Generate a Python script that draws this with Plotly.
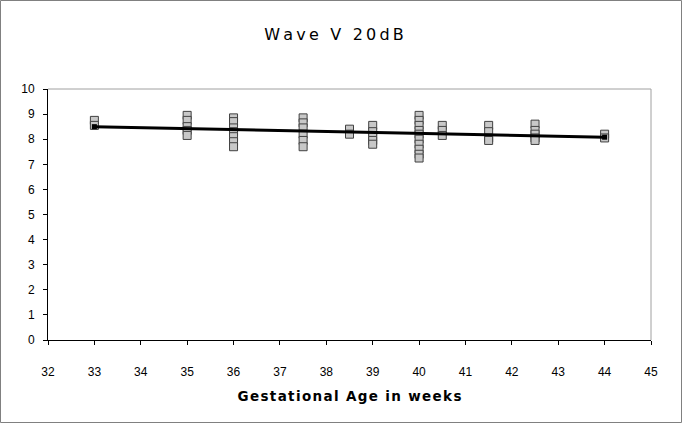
import plotly.graph_objects as go

# Data
ages = [33, 33,
        35, 35, 35, 35, 35,
        36, 36, 36, 36, 36, 36, 36,
        37.5, 37.5, 37.5, 37.5, 37.5, 37.5,
        38.5, 38.5,
        39, 39, 39, 39, 39,
        40, 40, 40, 40, 40, 40, 40, 40, 40, 40,
        40.5, 40.5, 40.5,
        41.5, 41.5, 41.5, 41.5,
        42.5, 42.5, 42.5, 42.5, 42.5,
        44, 44]
latency = [8.75, 8.55,
           8.95, 8.75, 8.5, 8.35, 8.15,
           8.85, 8.7, 8.45, 8.3, 8.1, 7.9, 7.7,
           8.85, 8.65, 8.45, 8.2, 7.95, 7.7,
           8.4, 8.2,
           8.55, 8.3, 8.1, 7.95, 7.8,
           8.95, 8.75, 8.55, 8.35, 8.2, 8.0, 7.8, 7.6, 7.4, 7.25,
           8.55, 8.35, 8.15,
           8.55, 8.3, 8.05, 7.95,
           8.6, 8.35, 8.2, 8.05, 7.95,
           8.2, 8.05]
trend_x = [33, 44]
trend_y = [8.5, 8.08]

x_ticks = list(range(32, 46))
y_ticks = list(range(0, 11))

title_text = "Wave V 20dB"
xtitle_text = "Gestational Age in weeks"


def spaced(s, sep):
    return sep.join(list(s))


fig = go.Figure()
fig.add_trace(go.Scatter(
    x=ages, y=latency, mode="markers",
    marker=dict(symbol="square", size=8, color="#c8c8c8",
                line=dict(color="#404040", width=1)),
    showlegend=False,
))
fig.add_trace(go.Scatter(
    x=trend_x, y=trend_y, mode="lines+markers",
    line=dict(color="#000000", width=3),
    marker=dict(symbol="square", size=5, color="#000000"),
    showlegend=False,
))

W, H = 682, 423
L, R, T, B = 48, 31, 89, 83
pw, ph = W - L - R, H - T - B

fig.update_layout(
    width=W, height=H,
    margin=dict(l=L, r=R, t=T, b=B, autoexpand=False),
    paper_bgcolor="white", plot_bgcolor="white",
    title=dict(text=spaced(title_text, "\u2009"),
               x=334 / W, xanchor="center", y=1 - 34 / H, yanchor="middle",
               font=dict(family="DejaVu Sans", size=16, color="#000000")),
    font=dict(family="Liberation Sans", size=12, color="#000000"),
    xaxis=dict(range=[32, 45], tickvals=x_ticks, ticks="outside", ticklen=4,
               tickcolor="#000000", showline=True, linecolor="#000000", linewidth=1,
               showgrid=False, zeroline=False, automargin=False,
               ticklabelstandoff=17,
               title=dict(text=spaced(xtitle_text, "\u200a"), standoff=13,
                          font=dict(family="DejaVu Sans", size=13.5, weight="bold",
                                    color="#000000")),
               tickfont=dict(family="Liberation Sans", size=12)),
    yaxis=dict(range=[0, 10], tickvals=y_ticks, ticks="outside", ticklen=4,
               tickcolor="#000000", showline=True, linecolor="#000000", linewidth=1,
               showgrid=False, zeroline=False, automargin=False,
               ticklabelstandoff=6,
               tickfont=dict(family="Liberation Sans", size=12)),
    shapes=[
        dict(type="line", xref="paper", yref="paper", x0=0, x1=1, y0=1, y1=1,
             line=dict(color="#a0a0a0", width=1)),
        dict(type="line", xref="paper", yref="paper", x0=1, x1=1, y0=0, y1=1,
             line=dict(color="#a0a0a0", width=1)),
        dict(type="rect", xref="paper", yref="paper",
             x0=-(L - 0.5) / pw, x1=1 + (R - 0.5) / pw,
             y0=-(B - 0.5) / ph, y1=1 + (T - 0.5) / ph,
             line=dict(color="#808080", width=1)),
    ],
)

fig.write_html(
    "out.html",
    config={"displayModeBar": False},
    post_script="document.body.style.margin='0';document.body.style.overflow='hidden';",
)
